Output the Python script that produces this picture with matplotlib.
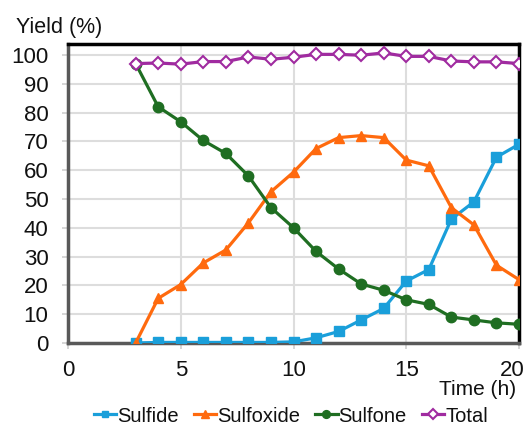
import matplotlib
matplotlib.use("Agg")
import matplotlib.pyplot as plt
from matplotlib.transforms import ScaledTranslation

plt.rcParams['font.family'] = ['Liberation Sans', 'DejaVu Sans']

time = [3, 4, 5, 6, 7, 8, 9, 10, 11, 12, 13, 14, 15, 16, 17, 18, 19, 20]
sulfide = [0, 0.2, 0.2, 0.2, 0.2, 0.2, 0.2, 0.4, 1.8, 4.0, 8.0, 12.0, 21.5, 25.5, 43.0, 49.0, 64.5, 69.0]
sulfoxide = [0, 15.5, 20.3, 27.8, 32.3, 41.7, 52.5, 59.3, 67.5, 71.3, 72.0, 71.3, 63.5, 61.5, 47.0, 41.0, 27.0, 22.0]
sulfone = [97.0, 82.0, 76.8, 70.3, 65.8, 58.0, 47.0, 40.0, 31.8, 25.7, 20.5, 18.3, 15.0, 13.4, 9.0, 8.0, 7.0, 6.5]
total = [97.0, 97.2, 96.8, 97.7, 97.7, 99.3, 98.5, 99.2, 100.2, 100.2, 99.9, 100.7, 99.5, 99.5, 97.9, 97.6, 97.6, 97.0]

x_ticks = [0, 5, 10, 15, 20]
y_ticks = [0, 10, 20, 30, 40, 50, 60, 70, 80, 90, 100]

fig = plt.figure(figsize=(5.29, 4.26), dpi=100)
ax = fig.add_axes([68/529, 1-343/426, (519-68)/529, (343-44)/426])

c_sulfide = '#1A9FDA'
c_sulfoxide = '#FF6A0E'
c_sulfone = '#1F6E22'
c_total = '#A02BA0'

ax.plot(time, sulfide, color=c_sulfide, lw=2.3, marker='s', ms=6.5, label='Sulfide', zorder=3)
ax.plot(time, sulfoxide, color=c_sulfoxide, lw=2.3, marker='^', ms=7.5, label='Sulfoxide', zorder=4)
ax.plot(time, sulfone, color=c_sulfone, lw=2.3, marker='o', ms=7.5, label='Sulfone', zorder=5)
ax.plot(time, total, color=c_total, lw=2.3, marker='D', ms=6.5, mfc='white', mec=c_total, mew=1.5,
        label='Total', zorder=6)

ax.set_xlim(0, 20)
ax.set_ylim(0, 103.8)
ax.set_xticks(x_ticks)
ax.set_yticks(y_ticks)
ax.grid(True, color='#dddddd', lw=1.5, zorder=0)
ax.set_axisbelow(True)

for s in ['left', 'bottom']:
    ax.spines[s].set_color('#595959')
    ax.spines[s].set_linewidth(2.5)
for s in ['top', 'right']:
    ax.spines[s].set_color('black')
    ax.spines[s].set_linewidth(2.5)

ax.tick_params(axis='both', labelsize=16, colors='#d0d0d0', labelcolor='#111111', length=4, width=1.2)
ax.tick_params(axis='x', pad=8)
ax.tick_params(axis='y', pad=10)

# keep the last x label inside the figure, as in the reference
last = ax.get_xticklabels()[-1]
last.set_transform(last.get_transform() + ScaledTranslation(-7/100, 0, fig.dpi_scale_trans))

fig.text(16/529, 1-33/426, 'Yield (%)', fontsize=15.5, ha='left', va='baseline', color='#111111')
fig.text(516/529, 1-395/426, 'Time (h)', fontsize=15, ha='right', va='baseline', color='#111111')

ax.legend(loc='center', bbox_to_anchor=(291/529, 1-416/426), bbox_transform=fig.transFigure,
          ncol=4, frameon=False, fontsize=14.5, handlelength=1.1, handletextpad=0.05,
          columnspacing=0.75, markerscale=0.75, borderaxespad=0, borderpad=0, labelcolor='#111111')

fig.savefig('out.png', dpi=100)
